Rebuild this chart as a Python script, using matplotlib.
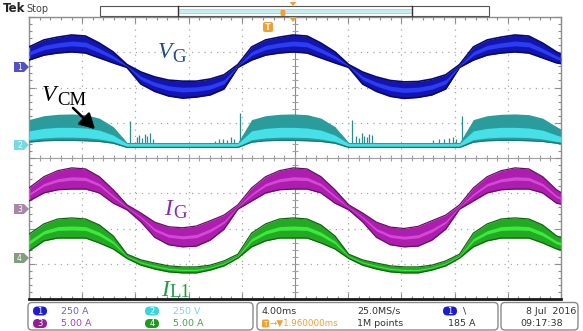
import matplotlib
matplotlib.use("Agg")
import matplotlib.pyplot as plt
from matplotlib.patches import FancyBboxPatch, Polygon, Rectangle
from matplotlib.ticker import MultipleLocator
import numpy as np

# ---------------- data (read from the scope screen) ----------------
# time in ms (4 ms/div, 10 div)
t_ms = [0.0, 1.12, 2.16, 3.21, 4.25, 5.29, 6.33, 7.37, 8.41, 9.45, 10.49, 11.54,
        12.58, 13.62, 14.66, 15.70, 16.74, 17.79, 18.83, 19.87, 20.91, 21.95, 23.00,
        24.04, 25.08, 26.12, 27.16, 28.20, 29.25, 30.29, 31.33, 32.37, 33.41, 34.45,
        35.50, 36.54, 37.58, 38.62, 39.66, 40.0]

# channel ground positions (divisions from screen centre)
ch1_pos, ch2_pos, ch3_pos, ch4_pos = 2.61, 0.37, -1.40, -2.78

# CH1  V_G envelope (div)
vg_hi = [0.54, 0.74, 0.82, 0.88, 0.85, 0.65, 0.40,
         0.04, -0.17, -0.31, -0.40, -0.43, -0.43, -0.37, -0.25,
         0.04, 0.54, 0.74, 0.82, 0.88, 0.85, 0.65, 0.40,
         0.04, -0.17, -0.31, -0.41, -0.45, -0.44, -0.37, -0.25,
         0.04, 0.54, 0.74, 0.82, 0.88, 0.85, 0.65, 0.40, 0.33]
vg_lo = [0.17, 0.31, 0.37, 0.40, 0.37, 0.23, 0.09,
         -0.04, -0.51, -0.72, -0.85, -0.91, -0.88, -0.82, -0.65,
         -0.04, 0.17, 0.31, 0.37, 0.40, 0.37, 0.23, 0.09,
         -0.04, -0.51, -0.72, -0.86, -0.92, -0.89, -0.82, -0.65,
         -0.04, 0.17, 0.31, 0.37, 0.40, 0.37, 0.23, 0.09, 0.07]

# CH2  V_CM envelope (div) : outer band and bright core
vcm_hi = [0.72, 0.83, 0.87, 0.88, 0.86, 0.76, 0.52,
          0.07, 0.07, 0.07, 0.07, 0.07, 0.07, 0.07, 0.07, 0.07,
          0.72, 0.83, 0.87, 0.88, 0.86, 0.76, 0.52,
          0.07, 0.07, 0.07, 0.07, 0.07, 0.07, 0.07, 0.07, 0.07,
          0.72, 0.83, 0.87, 0.88, 0.86, 0.76, 0.52, 0.45]
vcm_core_hi = [0.40, 0.47, 0.50, 0.50, 0.48, 0.42, 0.28,
               0.04, 0.04, 0.04, 0.04, 0.04, 0.04, 0.04, 0.04, 0.04,
               0.40, 0.47, 0.50, 0.50, 0.48, 0.42, 0.28,
               0.04, 0.04, 0.04, 0.04, 0.04, 0.04, 0.04, 0.04, 0.04,
               0.40, 0.47, 0.50, 0.50, 0.48, 0.42, 0.28, 0.24]
vcm_core_lo = [0.15, 0.20, 0.22, 0.22, 0.21, 0.17, 0.10,
               -0.04, -0.04, -0.04, -0.04, -0.04, -0.04, -0.04, -0.04, -0.04,
               0.15, 0.20, 0.22, 0.22, 0.21, 0.17, 0.10,
               -0.04, -0.04, -0.04, -0.04, -0.04, -0.04, -0.04, -0.04, -0.04,
               0.15, 0.20, 0.22, 0.22, 0.21, 0.17, 0.10, 0.08]
vcm_lo = [0.08, 0.12, 0.13, 0.13, 0.12, 0.10, 0.05,
          -0.07, -0.07, -0.07, -0.07, -0.07, -0.07, -0.07, -0.07, -0.07,
          0.08, 0.12, 0.13, 0.13, 0.12, 0.10, 0.05,
          -0.07, -0.07, -0.07, -0.07, -0.07, -0.07, -0.07, -0.07, -0.07,
          0.08, 0.12, 0.13, 0.13, 0.12, 0.10, 0.05, 0.04]
# switching spikes on CH2 (time ms, height div)
spike_t = [7.6, 8.1, 8.3, 8.5, 8.7, 8.9, 9.1, 9.3, 14.0, 14.3, 14.6, 14.9, 15.2, 15.4, 15.85,
           24.3, 24.6, 24.8, 25.0, 25.2, 25.4, 25.6, 25.8, 30.4, 30.8, 31.2, 31.6, 31.9, 32.1, 32.55]
spike_h = [0.68, 0.22, 0.28, 0.20, 0.30, 0.25, 0.33, 0.18, 0.12, 0.16, 0.18, 0.14, 0.22, 0.18, 0.90,
           0.72, 0.25, 0.20, 0.33, 0.24, 0.22, 0.30, 0.28, 0.14, 0.18, 0.16, 0.20, 0.22, 0.18, 0.82]

# CH3  I_G envelope (div)
ig_hi = [0.55, 0.87, 1.04, 1.12, 1.09, 0.87, 0.50,
         0.07, -0.16, -0.42, -0.55, -0.58, -0.53, -0.38, -0.22,
         0.07, 0.55, 0.87, 1.04, 1.12, 1.09, 0.87, 0.50,
         0.07, -0.16, -0.42, -0.56, -0.60, -0.54, -0.38, -0.22,
         0.07, 0.55, 0.87, 1.04, 1.12, 1.09, 0.87, 0.50, 0.42]
ig_lo = [0.18, 0.41, 0.50, 0.52, 0.52, 0.41, 0.12,
         -0.07, -0.41, -0.85, -1.06, -1.12, -1.10, -0.93, -0.62,
         -0.05, 0.18, 0.41, 0.50, 0.52, 0.52, 0.41, 0.12,
         -0.07, -0.41, -0.85, -1.06, -1.12, -1.10, -0.93, -0.62,
         -0.05, 0.18, 0.41, 0.50, 0.52, 0.52, 0.41, 0.12, 0.09]

# CH4  I_L1 envelope (div)
il_hi = [0.62, 0.91, 1.05, 1.08, 1.05, 0.88, 0.57,
         0.05, -0.11, -0.20, -0.28, -0.31, -0.31, -0.26, -0.14,
         0.05, 0.65, 0.91, 1.05, 1.08, 1.05, 0.88, 0.57,
         0.05, -0.11, -0.20, -0.28, -0.31, -0.31, -0.26, -0.14,
         0.05, 0.65, 0.91, 1.05, 1.08, 1.05, 0.88, 0.57, 0.52]
il_lo = [0.14, 0.43, 0.51, 0.51, 0.51, 0.37, 0.20,
         -0.07, -0.26, -0.37, -0.45, -0.48, -0.48, -0.40, -0.28,
         -0.06, 0.26, 0.43, 0.51, 0.51, 0.51, 0.37, 0.20,
         -0.07, -0.26, -0.37, -0.45, -0.48, -0.48, -0.40, -0.28,
         -0.06, 0.26, 0.43, 0.51, 0.51, 0.51, 0.37, 0.20, 0.17]

# ---------------- figure ----------------
W, H = 583, 331
fig = plt.figure(figsize=(W / 100, H / 100), dpi=100)
fig.patch.set_facecolor('white')
L, R, T, B = 29, 561, 17, 299
ax = fig.add_axes([L / W, 1 - B / H, (R - L) / W, (B - T) / H])
ax.set_xlim(0, 40)
ax.set_ylim(-4, 4)

# graticule
for gx in range(4, 40, 4):
    if gx != 20:
        ax.axvline(gx, ls=(0, (1, 4)), color='#a8a8a8', lw=0.9, zorder=0)
for gy in (-3, -2, -1, 1, 2, 3):
    ax.axhline(gy, ls=(0, (1, 4)), color='#a8a8a8', lw=0.9, zorder=0)
ax.axhline(0, color='#a0a0a0', lw=0.8, zorder=0)
ax.axvline(20, color='#8a8a8a', lw=0.8, zorder=0)
xs = np.arange(0, 40.01, 0.8)
ax.plot(xs, np.zeros_like(xs), ls='none', marker='|', ms=4, mew=0.8, color='#a0a0a0', zorder=0)
ys = np.arange(-4, 4.01, 0.2)
ax.plot(np.full_like(ys, 20), ys, ls='none', marker='_', ms=4, mew=0.8, color='#a0a0a0', zorder=0)

ax.xaxis.set_major_locator(MultipleLocator(4))
ax.xaxis.set_minor_locator(MultipleLocator(0.8))
ax.yaxis.set_major_locator(MultipleLocator(1))
ax.yaxis.set_minor_locator(MultipleLocator(0.2))
ax.tick_params(which='both', direction='in', top=True, right=True, bottom=True, left=True,
               labelbottom=False, labelleft=False, color='#8c8c8c', width=0.8)
ax.tick_params(which='major', length=4)
ax.tick_params(which='minor', length=2.5)
for s in ax.spines.values():
    s.set_color('#8c8c8c')
    s.set_linewidth(1)
ax.spines['bottom'].set_color('#1a1a1a')
ax.spines['bottom'].set_linewidth(2)

t = np.array(t_ms)


def band(pos, hi, lo, fill, edge, core, core_frac, elw=0.9):
    hi = pos + np.array(hi)
    lo = pos + np.array(lo)
    ax.fill_between(t, lo, hi, color=fill, lw=0, zorder=2)
    ax.plot(t, hi, color=edge, lw=elw, zorder=3)
    ax.plot(t, lo, color=edge, lw=elw, zorder=3)
    mid = (hi + lo) / 2
    half = (hi - lo) * core_frac
    ax.fill_between(t, mid - half, mid + half, color=core, lw=0, zorder=3)


# CH1 V_G
band(ch1_pos, vg_hi, vg_lo, '#1414b0', '#0a0a66', '#2a3cf4', 0.14, 1.2)

# CH2 V_CM
cp = ch2_pos
ax.vlines(spike_t, cp, cp + np.array(spike_h), color='#2a8c8c', lw=0.9, zorder=2)
ax.fill_between(t, cp + np.array(vcm_lo), cp + np.array(vcm_hi), color='#2a9c9c', lw=0, zorder=2)
ax.fill_between(t, cp + np.array(vcm_core_lo), cp + np.array(vcm_core_hi), color='#45e0e8', lw=0, zorder=3)
ax.plot(t, cp + np.array(vcm_lo), color='#1f7474', lw=0.9, zorder=3)

# CH3 I_G
band(ch3_pos, ig_hi, ig_lo, '#ae1eae', '#660e66', '#d448d8', 0.08)

# CH4 I_L1
band(ch4_pos, il_hi, il_lo, '#22aa22', '#126212', '#3ee83e', 0.10)

# ---------------- decorations (screen pixel coordinates) ----------------
deco = fig.add_axes([0, 0, 1, 1], zorder=5)
deco.set_xlim(0, W)
deco.set_ylim(H, 0)
deco.axis('off')
deco.patch.set_alpha(0)

# Tek Stop
deco.text(3, 9, 'Tek', fontsize=8.5, fontweight='bold', color='#222222', va='center', ha='left')
deco.text(26, 9, 'Stop', fontsize=7, color='#444444', va='center', ha='left')

# record bar
deco.add_patch(Rectangle((100, 6), 389, 10, fc='white', ec='#555555', lw=0.8))
deco.add_patch(Rectangle((178, 9), 234, 3.5, fc='#c4eef2', ec='#8fd0d8', lw=0.5))
deco.plot([178, 178], [6, 16], color='#333333', lw=1)
deco.plot([412, 412], [6, 16], color='#333333', lw=1)
deco.add_patch(FancyBboxPatch((280.5, 10), 5, 6, boxstyle='round,pad=0,rounding_size=1.2',
                              fc='#f0a030', ec='none'))
deco.add_patch(Polygon([(289.5, 2), (296.5, 2), (293, 6)], closed=True, fc='#f0a030', ec='none'))
deco.add_patch(Polygon([(289, 17), (297, 17), (293, 22)], closed=True, fc='#f0a030', ec='none'))
deco.add_patch(FancyBboxPatch((263, 22), 10, 10, boxstyle='round,pad=0,rounding_size=2',
                              fc='#f0a030', ec='none'))
deco.text(268, 27.5, 'T', fontsize=6, color='white', fontweight='bold', ha='center', va='center')

# channel ground markers
for yy, col, lab in [(67, '#5252c4', '1'), (145, '#7ad8e2', '2'),
                     (209, '#a688a6', '3'), (258, '#7e9e7e', '4')]:
    deco.add_patch(Polygon([(14, yy - 5), (24, yy - 5), (29, yy), (24, yy + 5), (14, yy + 5)],
                           closed=True, fc=col, ec='none'))
    deco.text(19.5, yy + 0.3, lab, fontsize=5.5, color='white', ha='center', va='center')

# trace labels (italic symbol + upright subscript, Times-like)
serif = 'Liberation Serif'


def label(x, y, sym, sub, col, sx, sy):
    deco.text(x, y, sym, fontsize=17, family=serif, style='italic', color=col,
              ha='left', va='baseline')
    deco.text(sx, sy, sub, fontsize=13.5, family=serif, color=col, ha='left', va='baseline')


label(158, 58, 'V', 'G', '#1f4c8c', 172, 62)
label(42, 101, 'V', 'CM', 'black', 57, 105)
deco.annotate('', xy=(97, 131), xytext=(71, 106),
              arrowprops=dict(arrowstyle='-|>,head_length=0.9,head_width=0.5', lw=1.8, color='black'))
label(164, 215, 'I', 'G', '#8a2aa6', 173, 218)
label(161, 296, 'I', 'L1', '#19a046', 169, 297)

# readout panels
for x0, x1 in [(28, 253), (257, 498), (501, 578)]:
    deco.add_patch(FancyBboxPatch((x0, 302.5), x1 - x0, 27.5,
                                  boxstyle='round,pad=0,rounding_size=4',
                                  fc='white', ec='#8a8a8a', lw=1, zorder=0.5))


def pill(x, y, col, lab):
    deco.add_patch(FancyBboxPatch((x - 7, y - 4.5), 14, 9, boxstyle='round,pad=0,rounding_size=4.5',
                                  fc=col, ec='none'))
    deco.text(x, y + 0.3, lab, fontsize=6, color='white', ha='center', va='center')


fs = 6.8
pill(40, 311, '#1c1cd0', '1')
deco.text(61, 311, '250 A', fontsize=fs, color='#6464cc', va='center')
pill(40, 323.5, '#941e94', '3')
deco.text(61, 323.5, '5.00 A', fontsize=fs, color='#a540b0', va='center')
pill(152, 311, '#3cd4dc', '2')
deco.text(173, 311, '250 V', fontsize=fs, color='#7fd6e0', va='center')
pill(152, 323.5, '#1e9a1e', '4')
deco.text(173, 323.5, '5.00 A', fontsize=fs, color='#4a9e4a', va='center')

deco.text(262, 311, '4.00ms', fontsize=fs, color='#333333', va='center')
deco.add_patch(FancyBboxPatch((262, 319.5), 7, 8, boxstyle='round,pad=0,rounding_size=1.5',
                              fc='#f0a030', ec='none'))
deco.text(265.5, 323.8, 'T', fontsize=5, color='white', ha='center', va='center')
deco.text(270, 323.5, '→▼1.960000ms', fontsize=fs - 0.5, color='#f0a030', va='center')
deco.text(357, 311, '25.0MS/s', fontsize=fs, color='#333333', va='center')
deco.text(357, 323.5, '1M points', fontsize=fs, color='#333333', va='center')
pill(450, 311, '#1c1cd0', '1')
deco.text(463, 311, '\\', fontsize=fs, color='#333333', va='center')
deco.text(448, 323.5, '185 A', fontsize=fs, color='#333333', va='center')

deco.text(576, 311, '8 Jul  2016', fontsize=fs, color='#333333', va='center', ha='right')
deco.text(520, 323.5, '09:17:38', fontsize=fs, color='#333333', va='center')

fig.savefig('out.png', dpi=100, facecolor='white')
